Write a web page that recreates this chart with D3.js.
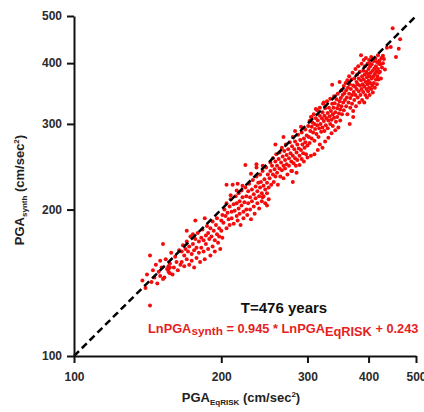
<!DOCTYPE html>
<html lang="en">
<head>
  <meta charset="UTF-8">
  <title>PGA synth vs EqRISK</title>
  <script src="https://d3js.org/d3.v7.min.js"></script>
  <style>
    body { margin: 0; background: #fff; }
    svg { display: block; font-family: "Liberation Sans", Arial, sans-serif; }
    .axis path, .axis line { stroke: #111; stroke-width: 2px; }
    .axis text { font-size: 12px; font-weight: bold; fill: #2a2a2a; }
    .title { font-size: 13px; font-weight: bold; fill: #222; }
  </style>
</head>
<body>
  <svg width="424" height="412"></svg>

  <script>
    // PGA values (cm/sec^2), [EqRISK, synth]
    const lowTail = [
      [138,143],[140,138],[141,147],[143,127],[143,161],[144,142],[145,150],[146,145],[147,154],[148,141],
      [149,149],[150,146],[150,157],[151,152],[152,170],[152,144],[153,145],[154,158],[155,151],[156,149],
      [156,151],[157,152],[156,153],[157,155],[157,148],[158,163],[159,147],[160,152],[161,160],[162,156],
      [163,150],[164,165],[165,154]
    ];
    const lowBand = [
      [166,164],[166,156],[167,169],[168,161],[168,153],[169,166],[170,172],[170,158],[171,164],[172,154],
      [172,168],[173,176],[174,162],[174,157],[175,170],[176,165],[176,152],[177,174],[178,167],[178,159],
      [179,179],[180,172],[180,163],[181,156],[182,175],[182,167],[183,182],[184,164],[184,173],[185,158],
      [186,177],[186,170],[187,185],[188,166],[188,179],[189,174],[190,161],[190,183],[191,176],[192,168],
      [192,189],[193,181],[194,173],[194,164],[195,186],[196,178],[196,192],[197,171],[198,183],[198,176],
      [199,166],[200,190],[200,181],[201,195],[201,175],[177,190],[175,178],[170,181],[185,192]
    ];
    const midBand = [
      [202,188],[203,200],[204,194],[205,183],[205,206],[206,197],[207,191],[208,203],[208,186],[209,210],
      [210,198],[210,192],[211,225],[212,205],[212,187],[213,199],[214,213],[215,194],[215,206],[216,190],
      [217,201],[217,216],[218,208],[218,196],[219,186],[220,204],[220,219],[221,212],[222,198],[222,192],
      [223,207],[224,247],[224,222],[225,213],[225,200],[226,195],[227,218],[227,206],[228,226],[229,212],
      [229,200],[230,191],[231,220],[231,208],[232,230],[233,215],[233,203],[234,196],[235,223],[235,211],
      [236,234],[237,218],[237,206],[238,227],[239,213],[239,201],[240,222],[240,236],[241,228],[242,216],
      [242,208],[243,240],[244,224],[244,213],[245,231],[246,220],[246,206],[247,244],[248,227],[248,216],
      [249,236],[250,222],[250,210],[243,246],[230,237],[236,244],[221,224],[215,219],[209,214],[205,225],
      [216,226],[236,248],[248,204],[243,212]
    ];
    const upperBand = [
      [251,232],[252,250],[252,240],[253,225],[254,246],[255,236],[255,255],[256,228],[257,242],[258,251],
      [258,234],[259,260],[260,246],[260,238],[261,225],[262,254],[263,243],[263,262],[264,234],[265,250],
      [266,241],[266,268],[267,257],[268,246],[268,232],[269,264],[270,253],[270,243],[271,272],[272,259],
      [272,248],[273,236],[274,266],[275,255],[275,246],[276,275],[277,261],[278,251],[278,240],[279,270],
      [280,258],[280,282],[281,249],[282,266],[283,255],[283,276],[284,246],[285,262],[286,272],[286,253],
      [287,285],[288,267],[289,258],[289,247],[290,278],[291,265],[292,254],[292,288],[293,272],[294,261],
      [295,280],[295,251],[296,268],[297,292],[297,275],[298,260],[299,284],[300,271],[300,256],[258,272],
      [268,282],[283,290],[291,296],[279,240],[285,238],[280,228]
    ];
    const highBand = [
      [301,297],[302,282],[303,304],[303,274],[304,290],[305,310],[306,296],[306,280],[307,302],[308,288],
      [309,314],[310,300],[310,277],[311,293],[312,308],[313,286],[314,320],[314,298],[315,305],[316,282],
      [317,294],[318,312],[318,324],[319,300],[320,289],[321,308],[322,317],[322,295],[323,330],[324,304],
      [325,290],[325,312],[326,323],[327,298],[328,308],[329,334],[330,316],[330,294],[331,305],[332,324],
      [333,311],[334,300],[334,338],[335,319],[336,306],[337,330],[338,314],[338,297],[339,324],[340,309],
      [340,342],[341,331],[342,317],[343,303],[344,337],[345,323],[345,310],[346,346],[347,328],[348,315],
      [349,334],[350,321],[350,305],[337,361],[349,366],[312,322],[324,332],[306,310],[318,272],[322,268],
      [326,276],[331,281],[336,287],[342,291],[347,295],[315,265],[310,260],[305,258]
    ];
    const topBlob = [
      [351,339],[352,326],[352,352],[353,314],[354,344],[355,332],[356,359],[356,320],[357,347],[358,336],
      [359,364],[360,326],[360,352],[361,340],[362,314],[362,369],[363,356],[364,332],[365,346],[365,376],
      [366,362],[367,324],[367,339],[368,354],[369,370],[370,344],[370,330],[371,382],[372,360],[372,319],
      [373,349],[374,336],[374,372],[375,358],[376,389],[376,344],[377,326],[378,366],[378,354],[379,379],
      [380,340],[380,362],[381,394],[382,350],[382,372],[383,332],[384,360],[384,384],[385,344],[386,415],
      [386,369],[387,354],[387,399],[388,336],[388,376],[389,362],[390,386],[390,349],[391,406],[391,370],
      [392,332],[392,358],[393,379],[393,394],[394,344],[395,366],[395,410],[396,354],[396,384],[397,374],
      [397,340],[398,399],[398,362],[399,350],[399,380],[400,389],[400,368],[401,356],[401,406],[402,376],
      [402,344],[403,394],[403,364],[404,382],[405,354],[405,412],[406,372],[406,398],[407,360],[408,386],
      [408,348],[409,376],[410,404],[410,364],[411,390],[412,356],[412,380],[413,409],[414,370],[414,394],
      [415,384],[416,362],[416,402],[417,376],[418,415],[418,389],[419,370],[420,399],[420,382],[372,310],
      [401,400],[366,300]
    ];
    const topTail = [
      [421,405],[422,384],[423,398],[424,372],[425,410],[426,392],[428,414],[428,400],[430,408],[432,388],
      [436,430],[444,432],[448,472],[455,412],[461,428],[464,448]
    ];
    const points = [].concat(lowTail, lowBand, midBand, upperBand, highBand, topBlob, topTail);

    const tickValues = [100, 200, 300, 400, 500];
    const diagonal = [100, 500];

    const svg = d3.select("svg");

    const x = d3.scaleLog().domain([100, 500]).range([74, 416]);
    const y = d3.scaleLog().domain([100, 500]).range([356, 16]);

    // dots
    svg.append("g")
      .selectAll("circle")
      .data(points)
      .enter().append("circle")
      .attr("cx", d => x(d[0]))
      .attr("cy", d => y(d[1]))
      .attr("r", 2)
      .attr("fill", "#f40c0c");

    // 1:1 line
    svg.append("line")
      .attr("x1", x(diagonal[0]))
      .attr("y1", y(diagonal[0]))
      .attr("x2", x(diagonal[1]))
      .attr("y2", y(diagonal[1]))
      .attr("stroke", "#000")
      .attr("stroke-width", 2.5)
      .attr("stroke-dasharray", "7,4");

    svg.append("g")
      .attr("class", "axis")
      .attr("transform", "translate(0,356)")
      .call(d3.axisBottom(x).tickValues(tickValues).tickFormat(d3.format("d"))
        .tickSize(7).tickSizeOuter(0).tickPadding(9));

    svg.append("g")
      .attr("class", "axis")
      .attr("transform", "translate(74,0)")
      .call(d3.axisLeft(y).tickValues(tickValues).tickFormat(d3.format("d"))
        .tickSize(7).tickSizeOuter(0).tickPadding(5));

    // axis titles
    const xt = svg.append("text").attr("class", "title")
      .attr("x", 241).attr("y", 402).attr("text-anchor", "middle");
    xt.append("tspan").text("PGA");
    xt.append("tspan").attr("dy", 3).style("font-size", "8px").text("EqRISK");
    xt.append("tspan").attr("dy", -3).text(" (cm/sec");
    xt.append("tspan").attr("dy", -5).style("font-size", "8px").text("2");
    xt.append("tspan").attr("dy", 5).text(")");

    const yt = svg.append("text").attr("class", "title")
      .attr("transform", "translate(24,190) rotate(-90)").attr("text-anchor", "middle");
    yt.append("tspan").text("PGA");
    yt.append("tspan").attr("dy", 3).style("font-size", "8px").text("synth");
    yt.append("tspan").attr("dy", -3).text(" (cm/sec");
    yt.append("tspan").attr("dy", -5).style("font-size", "8px").text("2");
    yt.append("tspan").attr("dy", 5).text(")");

    // annotations
    svg.append("text")
      .attr("x", 284).attr("y", 313).attr("text-anchor", "middle")
      .style("font-size", "15px").style("font-weight", "bold").attr("fill", "#111")
      .text("T=476 years");

    const eq = svg.append("text")
      .attr("x", 148).attr("y", 333)
      .style("font-size", "12.8px").style("font-weight", "bold").attr("fill", "#e61e1e");
    eq.append("tspan").text("LnPGA");
    eq.append("tspan").attr("dy", 2).style("font-size", "11.8px").text("synth");
    eq.append("tspan").attr("dy", -2).text(" = 0.945 * LnPGA");
    eq.append("tspan").attr("dy", 3).text("EqRISK");
    eq.append("tspan").attr("dy", -3).text(" + 0.243");
  </script>
</body>
</html>
